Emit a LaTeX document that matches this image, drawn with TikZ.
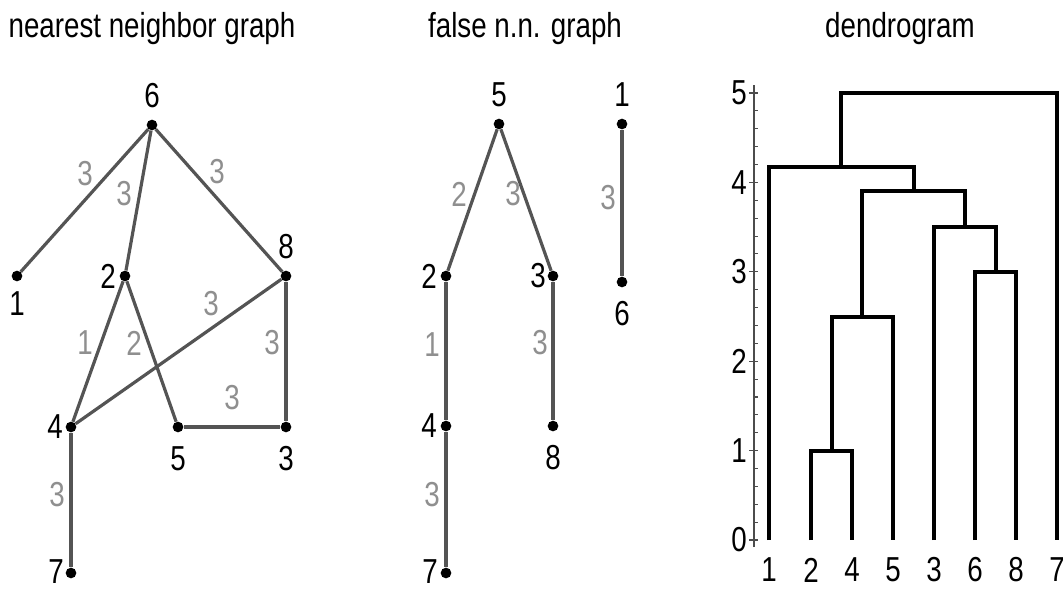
\documentclass[tikz,border=0pt]{standalone}
\usepackage{fontspec}
\setmainfont{Liberation Sans}
\usetikzlibrary{positioning}
\definecolor{edggray}{gray}{0.33}
\definecolor{wgtgray}{gray}{0.56}
\newcommand{\sqz}[1]{\scalebox{0.8}[1]{#1}}
\tikzset{
  vtx/.style={circle,fill=black,inner sep=0pt,minimum size=8pt},
  num/.style={inner sep=0pt,font=\fontsize{26}{30}\selectfont},
  wgt/.style={num,text=wgtgray},
  ttl/.style={inner sep=0pt,anchor=base,font=\fontsize{26}{30}\selectfont},
  edg/.style={line width=2.4pt,draw=edggray},
  dend/.style={line width=3pt,line join=miter},
  axis/.style={line width=0.8pt,draw=black!70}
}
\begin{document}
\begin{tikzpicture}[x=0.75pt,y=-0.75pt]
\useasboundingbox (0,0) rectangle (1063,592);
% titles
\node[ttl] (ttlnn) at (152,38) {\sqz{nearest neighbor graph}};
\node[ttl] (ttlfnn) at (525,38) {\sqz{false n.n. graph}};
\node[ttl] (ttldend) at (900,38) {\sqz{dendrogram}};
% nearest neighbor graph
\node[vtx] (a6) at (152,125) {};
\node[vtx] (a1) at (17,276) {};
\node[vtx] (a2) at (125,276) {};
\node[vtx] (a8) at (286,276) {};
\node[vtx] (a4) at (71,427) {};
\node[vtx] (a5) at (178,427) {};
\node[vtx] (a3) at (286,427) {};
\node[vtx] (a7) at (71,573) {};
\node[num] (a6l) at (152,96) {\sqz{6}};
\node[num] (a1l) at (17,304) {\sqz{1}};
\node[num] (a2l) at (108,276) {\sqz{2}};
\node[num] (a8l) at (286,247) {\sqz{8}};
\node[num] (a4l) at (55,427) {\sqz{4}};
\node[num] (a5l) at (178,459) {\sqz{5}};
\node[num] (a3l) at (286,459) {\sqz{3}};
\node[num] (a7l) at (56,572) {\sqz{7}};
\draw[edg] (a6) -- (a1);
\draw[edg] (a6) -- (a2);
\draw[edg] (a6) -- (a8);
\draw[edg] (a2) -- (a4);
\draw[edg] (a2) -- (a5);
\draw[edg] (a8) -- (a4);
\draw[edg] (a8) -- (a3);
\draw[edg] (a5) -- (a3);
\draw[edg] (a4) -- (a7);
\node[wgt] (w61) at (85,174) {\sqz{3}};
\node[wgt] (w62) at (124,194) {\sqz{3}};
\node[wgt] (w68) at (217,172) {\sqz{3}};
\node[wgt] (w84) at (211,304) {\sqz{3}};
\node[wgt] (w83) at (272,343) {\sqz{3}};
\node[wgt] (w24) at (85,343) {\sqz{1}};
\node[wgt] (w25) at (134,343) {\sqz{2}};
\node[wgt] (w53) at (232,398) {\sqz{3}};
\node[wgt] (w47) at (57,495) {\sqz{3}};
% false n.n. graph
\node[vtx] (b5) at (499,124) {};
\node[vtx] (b1) at (622,124) {};
\node[vtx] (b2) at (446,276) {};
\node[vtx] (b3) at (553,276) {};
\node[vtx] (b6) at (622,282) {};
\node[vtx] (b4) at (446,426) {};
\node[vtx] (b8) at (553,426) {};
\node[vtx] (b7) at (446,573) {};
\node[num] (b5l) at (499,95) {\sqz{5}};
\node[num] (b1l) at (622,95) {\sqz{1}};
\node[num] (b2l) at (429,276) {\sqz{2}};
\node[num] (b3l) at (538,276) {\sqz{3}};
\node[num] (b6l) at (622,314) {\sqz{6}};
\node[num] (b4l) at (429,426) {\sqz{4}};
\node[num] (b8l) at (553,458) {\sqz{8}};
\node[num] (b7l) at (430,572) {\sqz{7}};
\draw[edg] (b5) -- (b2);
\draw[edg] (b5) -- (b3);
\draw[edg] (b2) -- (b4);
\draw[edg] (b4) -- (b7);
\draw[edg] (b3) -- (b8);
\draw[edg] (b1) -- (b6);
\node[wgt] (v52) at (459,194) {\sqz{2}};
\node[wgt] (v53) at (513,194) {\sqz{3}};
\node[wgt] (v16) at (608,198) {\sqz{3}};
\node[wgt] (v24) at (432,345) {\sqz{1}};
\node[wgt] (v38) at (540,343) {\sqz{3}};
\node[wgt] (v47) at (432,495) {\sqz{3}};
% dendrogram
\foreach \x/\l in {769/1,811/2,852/4,893/5,934/3,975/6,1016/8,1057/7}
  \node[num] (leaf\l) at (\x,570) {\sqz{\l}};
\begin{scope}[shift={(0,540)},yscale=-89.4]
\draw[axis] (754,-0.08) -- (754,5.09);
\foreach \v in {0,...,5} {
  \draw[axis] (749,\v) -- (758,\v);
  \node[num] (tick\v) at (739,\v) {\sqz{\v}};
}
\foreach \v in {0.2,0.4,...,4.9}
  \draw[axis] (754,\v) -- (758,\v);
\draw[dend] (811,0) |- (852,1) -- (852,0);
\draw[dend] (831.5,1) |- (893,2.5) -- (893,0);
\draw[dend] (975,0) |- (1016,3) -- (1016,0);
\draw[dend] (934,0) |- (995.5,3.5) -- (995.5,3);
\draw[dend] (862.25,2.5) |- (964.75,3.9) -- (964.75,3.5);
\draw[dend] (769,0) |- (913.5,4.17) -- (913.5,3.9);
\draw[dend] (841.25,4.17) |- (1057,5) -- (1057,0);
\end{scope}
\end{tikzpicture}
\end{document}
